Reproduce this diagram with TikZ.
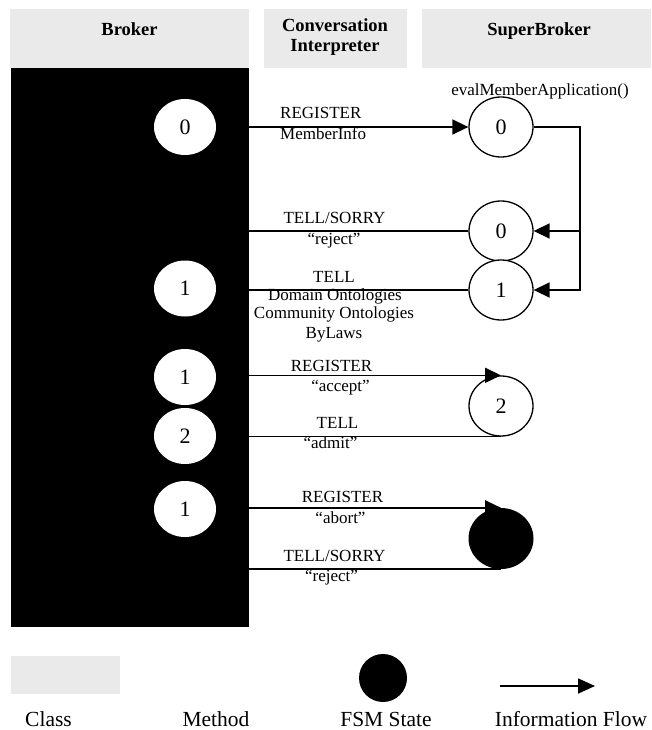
\documentclass[tikz,border=0pt]{standalone}
\usepackage{fontspec}
\setmainfont{Liberation Serif}
\usetikzlibrary{arrows.meta,shapes.geometric}
\definecolor{classgray}{RGB}{234,234,234}
\begin{document}
\begin{tikzpicture}[x=1pt,y=-1pt,
  classbox/.style={fill=classgray, inner sep=0pt, outer sep=0pt},
  hdr/.style={font=\fontsize{18.5}{20}\selectfont\bfseries, anchor=base, inner sep=0pt},
  lbl/.style={font=\fontsize{17}{19}\selectfont, anchor=base, inner sep=0pt},
  legtext/.style={font=\fontsize{21.5}{24}\selectfont, anchor=base, inner sep=0pt},
  bstate/.style={ellipse, fill=white, minimum width=62pt, minimum height=56pt,
    inner sep=0pt, font=\fontsize{22}{22}\selectfont},
  sstate/.style={ellipse, draw, line width=1.3pt, fill=white, minimum width=64pt,
    minimum height=60pt, inner sep=0pt, font=\fontsize{22}{22}\selectfont},
  fstate/.style={ellipse, fill=black, minimum width=65pt, minimum height=61pt, inner sep=0pt},
  link/.style={line width=1.6pt},
  flow/.style={line width=1.6pt, -{Triangle[length=16pt,width=15pt]}},
]
\useasboundingbox (0,0) rectangle (651,730);

% column headers
\node[classbox, minimum width=239pt, minimum height=59pt] (hbroker) at (129.5,38.5) {};
\node[classbox, minimum width=143pt, minimum height=59pt] (hconv) at (335.5,38.5) {};
\node[classbox, minimum width=229pt, minimum height=59pt] (hsuper) at (536.5,38.5) {};
\node[hdr] (tbroker) at (129.5,36) {Broker};
\node[hdr] (tconv1) at (335,31.5) {Conversation};
\node[hdr] (tconv2) at (335,51.5) {Interpreter};
\node[hdr] (tsuper) at (539,36) {SuperBroker};

% Broker lane with its states
\node[fill=black, inner sep=0pt, outer sep=0pt, minimum width=238pt, minimum height=559pt] (lane) at (130,347.5) {};
\node[bstate] (b0) at (185,127) {0};
\node[bstate] (b1) at (185,288.5) {1};
\node[bstate] (b1b) at (185,377) {1};
\node[bstate] (b2) at (185,436) {2};
\node[bstate] (b1c) at (185,509) {1};

% SuperBroker states
\node[sstate] (sb0) at (501,127) {0};
\node[sstate] (sb0r) at (501,231) {0};
\node[sstate] (sb1) at (501,290) {1};
\node[sstate] (sb2) at (501,406) {2};
\node[fstate] (sbx) at (501,538.5) {};
\node[lbl] (teval) at (540,96) {evalMemberApplication()};
\coordinate (jn) at (580,0);

% registration request and evaluation
\draw[flow] (lane.east |- sb0) -- (sb0.west);
\node[lbl, anchor=base west] (l1a) at (280,119) {REGISTER};
\node[lbl, anchor=base west] (l1b) at (280,140) {MemberInfo};
\draw[flow] (sb0.east) -| (jn |- sb1) -- (sb1.east);
\draw[flow] (jn |- sb0r) -- (sb0r.east);

% rejection
\draw[link] (sb0r.west) -- (lane.east |- sb0r);
\node[lbl] (l2a) at (334.5,223) {TELL/SORRY};
\node[lbl] (l2b) at (334,244) {“reject”};

% acceptance with ontologies
\draw[link] (sb1.west) -- (lane.east |- sb1);
\node[lbl] (l3a) at (334,282) {TELL};
\node[lbl] (l3b) at (335,300) {Domain Ontologies};
\node[lbl] (l3c) at (334,318.5) {Community Ontologies};
\node[lbl] (l3d) at (334,338) {ByLaws};

% registration accepted / admitted
\draw[flow] (lane.east |- sb2.north) -- (sb2.north);
\node[lbl] (l4a) at (331.5,371) {REGISTER};
\node[lbl] (l4b) at (340.5,391) {“accept”};
\draw[link] (sb2.south) -- (lane.east |- sb2.south);
\node[lbl] (l5a) at (337.5,428) {TELL};
\node[lbl] (l5b) at (330.5,448) {“admit”};

% registration aborted
\draw[flow] (lane.east |- sbx.north) -- (sbx.north);
\node[lbl] (l6a) at (342.5,502) {REGISTER};
\node[lbl] (l6b) at (340.5,523) {“abort”};
\draw[link] (sbx.south) -- (lane.east |- sbx.south);
\node[lbl] (l7a) at (334.5,561) {TELL/SORRY};
\node[lbl] (l7b) at (331.5,581.5) {“reject”};

% legend
\node[classbox, minimum width=109pt, minimum height=38pt] (lclass) at (65.5,675) {};
\node[fill=black, circle, minimum size=48pt, inner sep=0pt] (ldot) at (383,678) {};
\coordinate (la) at (500,686);
\coordinate (lb) at (595,686);
\draw[line width=1.7pt, -{Triangle[length=17pt,width=15pt]}] (la) -- (lb);
\node[legtext] (tclass) at (48.5,726) {Class};
\node[legtext] (tmethod) at (216,726) {Method};
\node[legtext] (tfsm) at (386,726) {FSM State};
\node[legtext] (tflow) at (571,726) {Information Flow};
\end{tikzpicture}
\end{document}
